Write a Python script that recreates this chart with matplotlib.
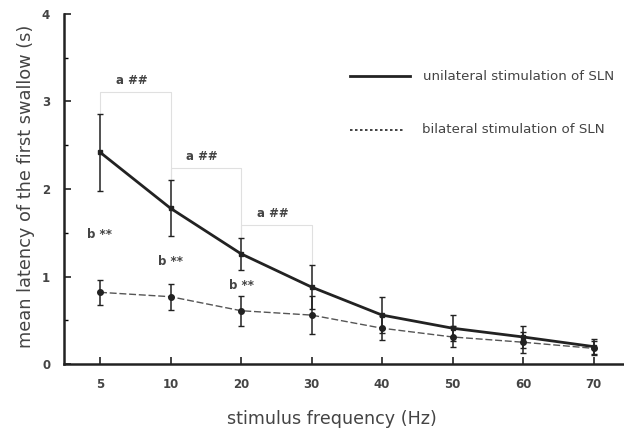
import numpy as np
import matplotlib.pyplot as plt

plt.rcParams['font.family'] = ['DejaVu Sans']

# ---- data ----
freq_labels = ['5', '10', '20', '30', '40', '50', '60', '70']
uni_mean = [2.42, 1.78, 1.26, 0.88, 0.56, 0.41, 0.31, 0.20]
uni_err = [0.44, 0.32, 0.18, 0.25, 0.21, 0.15, 0.13, 0.09]
bi_mean = [0.82, 0.77, 0.61, 0.56, 0.41, 0.31, 0.25, 0.18]
bi_err = [0.14, 0.15, 0.17, 0.22, 0.14, 0.12, 0.12, 0.08]

# significance marks: (index of left point, text, y position of text)
a_marks = [(0, 'a ##', 3.24), (1, 'a ##', 2.37), (2, 'a ##', 1.72)]
b_marks = [(0, 'b **', 1.48), (1, 'b **', 1.17), (2, 'b **', 0.90)]

x = np.arange(len(freq_labels))
ink = '#222222'
txt = '#444444'

fig = plt.figure(figsize=(6.24, 4.34), dpi=100)
ax = fig.add_axes([0.1026, 0.161, 0.8974, 0.807])

# unilateral (solid, thick)
ax.errorbar(x, uni_mean, yerr=uni_err, color=ink, lw=2.0, elinewidth=1.1,
            capsize=2.5, capthick=1.0, marker='s', ms=3, zorder=3)
# bilateral (dashed, thin)
ax.errorbar(x, bi_mean, yerr=bi_err, color='#555555', lw=1.0, ls=(0, (5, 2)),
            ecolor=ink, elinewidth=1.1, capsize=2.5, capthick=1.0,
            marker='o', ms=4, mfc=ink, mec=ink, zorder=3)

# faint brackets and labels for the "a ##" marks
for i, label, ty in a_marks:
    top = ty - 0.13
    ax.plot([x[i], x[i], x[i + 1], x[i + 1]],
            [uni_mean[i] + uni_err[i], top, top, uni_mean[i + 1] + uni_err[i + 1]],
            color='#e0e0e0', lw=0.8, zorder=1)
    ax.text(x[i] + 0.45, ty, label, fontsize=8.5, fontweight='bold',
            color=txt, ha='center', va='center')

for i, label, ty in b_marks:
    ax.text(x[i], ty, label, fontsize=8.5, fontweight='bold',
            color=txt, ha='center', va='center')

ax.set_xlim(-0.51, 7.43)
ax.set_ylim(0, 4)
ax.set_xticks(x)
ax.set_xticklabels(freq_labels)
ax.set_yticks([0, 1, 2, 3, 4])
ax.set_yticks(np.arange(0.5, 4, 1), minor=True)
ax.tick_params(axis='both', direction='in', colors=ink, labelcolor=txt,
               labelsize=8.5, width=1.2, length=5)
ax.tick_params(axis='y', which='minor', direction='in', length=3, width=1.0)
ax.tick_params(axis='y', pad=10)
ax.tick_params(axis='x', pad=10)
for lab in ax.get_yticklabels() + ax.get_xticklabels():
    lab.set_fontweight('bold')

for s in ['top', 'right']:
    ax.spines[s].set_visible(False)
for s in ['left', 'bottom']:
    ax.spines[s].set_linewidth(1.8)
    ax.spines[s].set_color(ink)

# legend drawn by hand in figure coordinates
W, H = 624, 434
fig.add_artist(plt.Line2D([350 / W, 410 / W], [1 - 76 / H, 1 - 76 / H],
                          color=ink, lw=2.0))
fig.text(423 / W, 1 - 76 / H, 'unilateral stimulation of SLN', fontsize=9.6,
         color=txt, va='center')
fig.add_artist(plt.Line2D([350 / W, 403 / W], [1 - 130 / H, 1 - 130 / H],
                          color=ink, lw=1.2, ls=(0, (1.5, 1.5))))
fig.text(422 / W, 1 - 130 / H, 'bilateral stimulation of SLN', fontsize=9.6,
         color=txt, va='center')

fig.text(332 / W, 1 - 419 / H, 'stimulus frequency (Hz)', fontsize=12.6,
         color=txt, ha='center', va='center')
fig.text(26 / W, 1 - 186 / H, 'mean latency of the first swallow (s)',
         fontsize=12.8, color=txt, ha='center', va='center', rotation=90)

fig.savefig('out.png', dpi=100)
